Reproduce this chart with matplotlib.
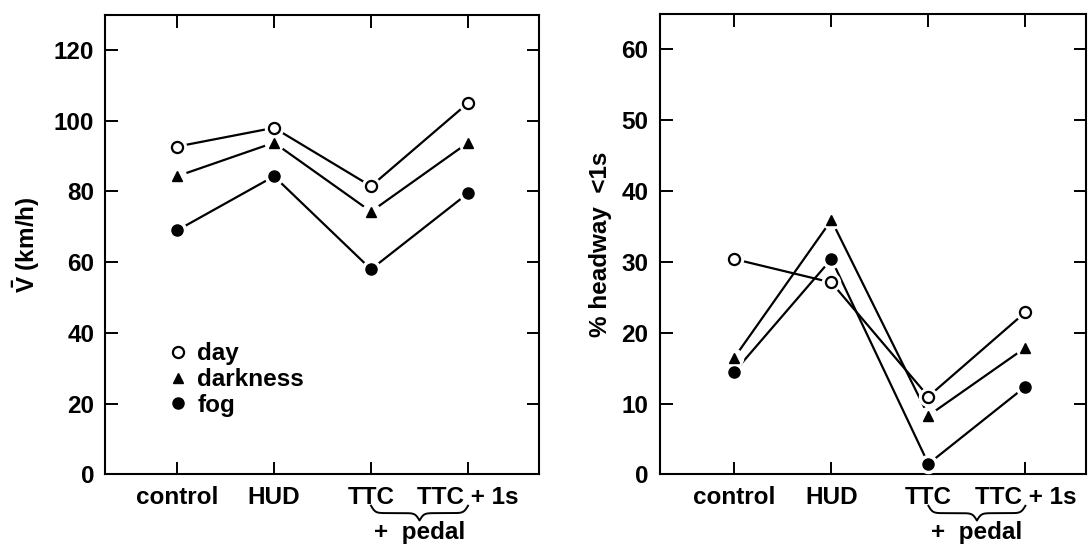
import numpy as np
import matplotlib
matplotlib.use("Agg")
from matplotlib import pyplot as plt
from matplotlib.lines import Line2D
from matplotlib.transforms import blended_transform_factory

plt.rcParams['font.family'] = ['Liberation Sans', 'DejaVu Sans']
plt.rcParams['font.weight'] = 'bold'
plt.rcParams['axes.labelweight'] = 'bold'
plt.rcParams['mathtext.fontset'] = 'custom'
plt.rcParams['mathtext.rm'] = 'Liberation Sans:bold'
plt.rcParams['mathtext.it'] = 'Liberation Sans:bold'

# data
conditions = ["control", "HUD", "TTC", "TTC + 1s"]
xpos = [1, 2, 3, 4]

speed_day = [92.7, 98.0, 81.5, 105.0]
speed_dark = [84.3, 93.8, 74.3, 93.8]
speed_fog = [69.0, 84.3, 58.0, 79.5]

headway_day = [30.4, 27.1, 11.0, 22.9]
headway_dark = [16.5, 35.9, 8.3, 17.9]
headway_fog = [14.5, 30.4, 1.5, 12.4]

series_names = ["day", "darkness", "fog"]

FS = 17.5
styles = [dict(marker='o', mfc='white', mec='black', ms=8, mew=1.6),
          dict(marker='^', mfc='black', mec='black', ms=7, mew=1),
          dict(marker='o', mfc='black', mec='black', ms=8, mew=1)]


def draw_series(ax, ys):
    for y, st in zip(ys, styles):
        ax.plot(xpos, y, color='black', lw=1.6, zorder=2)
        ax.plot(xpos, y, linestyle='none', marker='o', ms=14, mfc='white', mec='none', zorder=3)
        ax.plot(xpos, y, linestyle='none', zorder=4, **st)


def brace(ax, x1, x2, ytop, h):
    tr = blended_transform_factory(ax.transData, ax.transAxes)
    mid = (x1 + x2) / 2
    half = np.linspace(x1, mid, 101)
    beta = 45
    yh = 1 / (1 + np.exp(-beta * (half - x1))) + 1 / (1 + np.exp(-beta * (half - mid)))
    yh = (yh - yh.min()) / (yh.max() - yh.min())
    xs = np.concatenate([half, (2 * mid - half)[-2::-1]])
    ys = np.concatenate([yh, yh[-2::-1]])
    ax.plot(xs, ytop - h * ys, color='black', lw=1.4, transform=tr, clip_on=False)
    ax.text(mid, -0.14, "+  pedal", transform=tr, ha='center', va='baseline', fontsize=FS)


def style_axes(ax, ymax, yticks, xlim):
    ax.set_xlim(*xlim)
    ax.set_ylim(0, ymax)
    ax.set_xticks(xpos)
    ax.set_xticklabels(conditions)
    ax.set_yticks(yticks)
    ax.tick_params(direction='in', length=9, width=1.4, labelsize=FS,
                   top=True, right=True, pad=8)
    for s in ax.spines.values():
        s.set_linewidth(1.5)
    brace(ax, 3, 4, -0.068, 0.032)


fig = plt.figure(figsize=(10.9, 5.45), dpi=100)

ax1 = fig.add_axes([0.0966, 0.1294, 0.3977, 0.8438])
draw_series(ax1, [speed_day, speed_dark, speed_fog])
style_axes(ax1, 130, range(0, 121, 20), (0.26, 4.73))
ax1.set_ylabel(r"$\bar{\mathrm{V}}$ (km/h)", fontsize=FS)
ax1.yaxis.set_label_coords(-0.145, 0.5)

handles = [Line2D([], [], linestyle='none', **st) for st in styles]
ax1.legend(handles, series_names, loc='upper left', bbox_to_anchor=(0.153, 0.287),
           frameon=False, fontsize=FS, handlelength=0.55, handletextpad=0.5,
           labelspacing=0.11, borderpad=0, borderaxespad=0)

ax2 = fig.add_axes([0.6052, 0.1294, 0.3907, 0.845])
draw_series(ax2, [headway_day, headway_dark, headway_fog])
style_axes(ax2, 65, range(0, 61, 10), (0.23, 4.62))
ax2.set_ylabel("% headway  <1s", fontsize=FS)
ax2.yaxis.set_label_coords(-0.112, 0.5)

fig.savefig("out.png", dpi=100)
